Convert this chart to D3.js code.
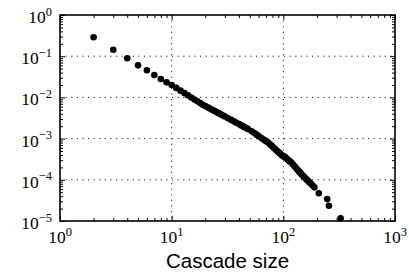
<!DOCTYPE html>
<html>
<head>
<meta charset="utf-8">
<script src="https://cdn.jsdelivr.net/npm/d3@7"></script>
<style>
  body { margin: 0; background: #fff; }
  svg { display: block; }
</style>
</head>
<body>
<div id="chart"></div>
<script>
// cascade sizes and their probabilities
var sizes = [2, 3, 4, 5, 6, 7, 8, 9, 10,
  11, 12, 13, 14, 15, 16, 17, 18, 19, 20,
  21, 22, 23, 24, 25, 26, 27, 28, 29, 30,
  32, 34, 36, 38, 40, 42, 44, 46, 48, 52,
  55, 58, 61, 64, 67, 70, 73, 76, 79, 82,
  85, 88, 91, 94, 97, 100, 103, 106, 109, 112,
  115, 118, 122, 126, 130, 134, 138, 142, 146, 152,
  158, 164, 170, 176, 183, 190, 208, 247, 256, 326]
var probs = [0.288, 0.144, 0.089, 0.060, 0.0455, 0.035, 0.028, 0.0232, 0.020,
  0.0170, 0.0146, 0.0127, 0.0112, 0.00996, 0.00891, 0.00803, 0.00728, 0.00663, 0.00616,
  0.00574, 0.00536, 0.00503, 0.00473, 0.00446, 0.00421, 0.00399, 0.00379, 0.00360, 0.00343,
  0.00312, 0.00285, 0.00262, 0.00242, 0.00225, 0.00209, 0.00195, 0.00183, 0.00172, 0.00151,
  0.00136, 0.00123, 0.00112, 0.00102, 0.00094, 0.000866, 0.000801, 0.000724, 0.000657, 0.000599,
  0.000548, 0.000502, 0.000462, 0.000426, 0.000394, 0.000375, 0.000360, 0.000338, 0.000312, 0.000292,
  0.000277, 0.000262, 0.000236, 0.000213, 0.000193, 0.000176, 0.000160, 0.000147, 0.000135, 0.000121,
  0.000108, 0.0000982, 0.0000890, 0.0000809, 0.0000727, 0.0000656, 0.000047, 0.000034, 0.0000235, 0.0000116]

var xTicks = [1, 10, 100, 1000]
var xTickExps = ["0", "1", "2", "3"]
var yTicks = [1, 1e-1, 1e-2, 1e-3, 1e-4, 1e-5]
var yTickExps = ["0", "\u22121", "\u22122", "\u22123", "\u22124", "\u22125"]
var xLabel = "Cascade size"

// set the dimensions and margins of the graph
var width = 409
var height = 274
var margin = {top: 15, right: 14, bottom: 53, left: 60}
var w = width - margin.left - margin.right
var h = height - margin.top - margin.bottom

var svg = d3.select("#chart")
  .append("svg")
  .attr("width", width)
  .attr("height", height)
  .append("g")
  .attr("transform", "translate(" + margin.left + "," + margin.top + ")")

var x = d3.scaleLog().domain([1, 1000]).range([0, w])
var y = d3.scaleLog().domain([1e-5, 1]).range([h, 0])

// minor ticks: 2..9 in every decade
function minors(lo, hi) {
  var out = []
  for (var d = lo; d < hi; d *= 10)
    for (var k = 2; k < 10; k++) out.push(d * k)
  return out
}
var xMinor = minors(1, 1000)
var yMinor = minors(1e-5, 1)

// dotted grid at the major ticks
svg.append("g").selectAll("line")
  .data(xTicks.slice(1, -1))
  .enter().append("line")
  .attr("x1", function(d) { return x(d) }).attr("x2", function(d) { return x(d) })
  .attr("y1", 0).attr("y2", h)
  .attr("stroke", "#222").attr("stroke-width", 1)
  .attr("stroke-dasharray", "1.2,4.4")

svg.append("g").selectAll("line")
  .data(yTicks.slice(1, -1))
  .enter().append("line")
  .attr("y1", function(d) { return y(d) }).attr("y2", function(d) { return y(d) })
  .attr("x1", 0).attr("x2", w)
  .attr("stroke", "#222").attr("stroke-width", 1)
  .attr("stroke-dasharray", "1.2,4.4")

// ticks pointing inward on all four sides
function tickAxis(axis, vals, size, tr) {
  var g = svg.append("g")
    .attr("transform", tr)
    .call(axis.tickValues(vals).tickSize(size).tickSizeOuter(0).tickFormat(""))
  g.select(".domain").remove()
  g.selectAll("line").attr("stroke", "#000").attr("stroke-width", 1)
  return g
}
tickAxis(d3.axisBottom(x), xTicks, -5, "translate(0," + h + ")")
tickAxis(d3.axisBottom(x), xMinor, -3, "translate(0," + h + ")")
tickAxis(d3.axisTop(x), xTicks, -5, "translate(0,0)")
tickAxis(d3.axisTop(x), xMinor, -3, "translate(0,0)")
tickAxis(d3.axisLeft(y), yTicks, -5, "translate(0,0)")
tickAxis(d3.axisLeft(y), yMinor, -3, "translate(0,0)")
tickAxis(d3.axisRight(y), yTicks, -5, "translate(" + w + ",0)")
tickAxis(d3.axisRight(y), yMinor, -3, "translate(" + w + ",0)")

// tick labels as 10 with a superscript
function powerLabel(sel, exps) {
  sel.text(null)
  sel.append("tspan").text("10")
  sel.append("tspan")
    .attr("dy", -7.5)
    .style("font-size", "12.5px")
    .text(function(d, i) { return exps[i] })
}

svg.append("g").selectAll("text")
  .data(xTicks)
  .enter().append("text")
  .attr("x", function(d) { return x(d) })
  .attr("y", h + 22)
  .attr("text-anchor", "middle")
  .style("font-family", "'Liberation Serif', 'Times New Roman', serif")
  .style("font-size", "17.5px")
  .call(powerLabel, xTickExps)

svg.append("g").selectAll("text")
  .data(yTicks)
  .enter().append("text")
  .attr("x", -8)
  .attr("y", function(d) { return y(d) + 8 })
  .attr("text-anchor", "end")
  .style("font-family", "'Liberation Serif', 'Times New Roman', serif")
  .style("font-size", "17.5px")
  .call(powerLabel, yTickExps)

// frame
svg.append("rect")
  .attr("x", 0).attr("y", 0)
  .attr("width", w).attr("height", h)
  .attr("fill", "none")
  .attr("stroke", "#000")
  .attr("stroke-width", 1.6)

// the points
svg.append("g").selectAll("circle")
  .data(sizes)
  .enter().append("circle")
  .attr("cx", function(d) { return x(d) })
  .attr("cy", function(d, i) { return y(probs[i]) })
  .attr("r", 3.3)
  .attr("fill", "#000")

svg.append("text")
  .attr("x", w / 2)
  .attr("y", h + 47)
  .attr("text-anchor", "middle")
  .style("font-family", "'Liberation Sans', Arial, sans-serif")
  .style("font-size", "20.5px")
  .text(xLabel)
</script>
</body>
</html>
